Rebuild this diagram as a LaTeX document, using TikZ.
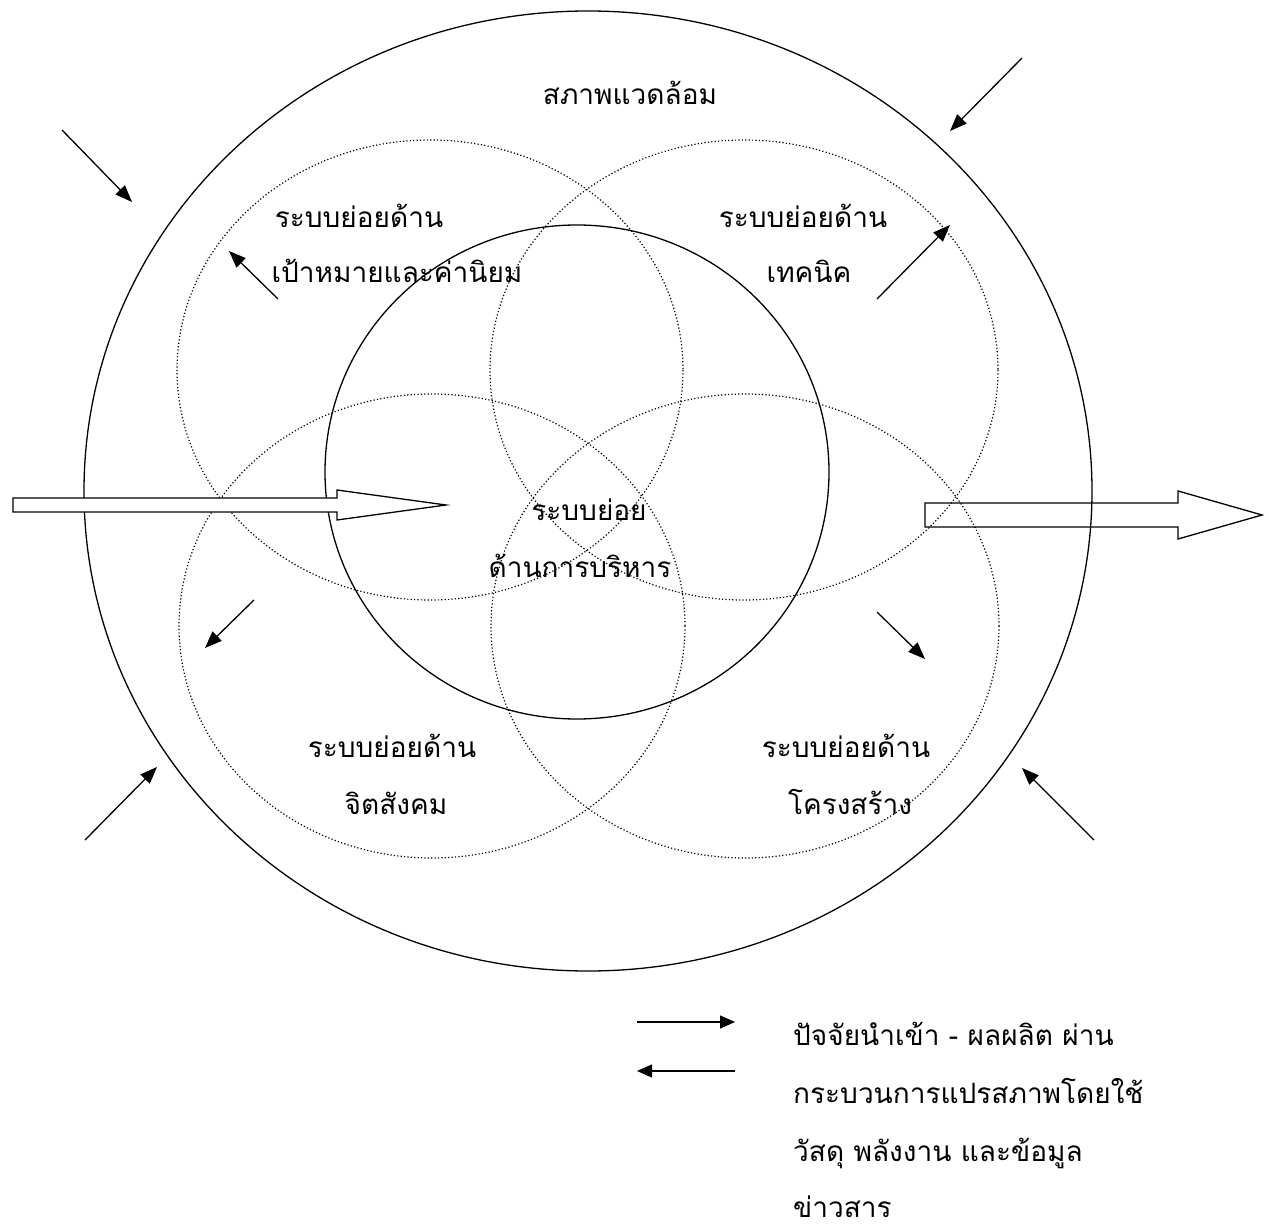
\documentclass[tikz,border=0pt]{standalone}
\usepackage{fontspec}
\newfontfamily\thaifont[Script=Thai]{Loma}
\usetikzlibrary{arrows.meta}
\begin{document}
\begin{tikzpicture}[x=1pt,y=-1pt,
  solidline/.style={line width=1.3pt},
  dotline/.style={line width=1.2pt, dash pattern=on 1.2pt off 2.2pt},
  thinarrow/.style={line width=1.3pt, -{Triangle[length=17pt,width=13pt]}},
  legarrow/.style={line width=1.3pt, -{Triangle[length=15pt,width=13pt]}},
  lbl/.style={font=\thaifont\fontsize{28}{28}\selectfont, inner sep=0pt, anchor=base},
  leg/.style={font=\thaifont\fontsize{28}{28}\selectfont, inner sep=0pt, anchor=base west},
  bigarrow/.style={line width=1.3pt}]
\useasboundingbox (0,0) rectangle (1269,1230);
% outer environment ellipse
\coordinate (outerc) at (588,491);
\draw[solidline] (outerc) ellipse [x radius=504, y radius=480];
% dotted subsystem circles
\coordinate (tlc) at (430,370);
\coordinate (trc) at (744,370);
\coordinate (blc) at (432,626);
\coordinate (brc) at (745,626);
\draw[dotline] (tlc) ellipse [x radius=253, y radius=230];
\draw[dotline] (trc) ellipse [x radius=254, y radius=230];
\draw[dotline] (blc) ellipse [x radius=253, y radius=232];
\draw[dotline] (brc) ellipse [x radius=254, y radius=232];
% inner management ellipse
\coordinate (innerc) at (577,472);
\draw[solidline] (innerc) ellipse [x radius=252, y radius=247];
% labels
\node[lbl] (env) at (630,105) {สภาพแวดล้อม};
\node[lbl] (tl1) at (359,228) {ระบบย่อยด้าน};
\node[lbl] (tl2) at (397,283) {เป้าหมายและค่านิยม};
\node[lbl] (tr1) at (803,228) {ระบบย่อยด้าน};
\node[lbl] (tr2) at (809,283) {เทคนิค};
\node[lbl] (c1) at (589,520) {ระบบย่อย};
\node[lbl] (c2) at (580,577) {ด้านการบริหาร};
\node[lbl] (bl1) at (392,757) {ระบบย่อยด้าน};
\node[lbl] (bl2) at (396,814) {จิตสังคม};
\node[lbl] (br1) at (846,757) {ระบบย่อยด้าน};
\node[lbl] (br2) at (850,814) {โครงสร้าง};
% big input arrow (filled white)
\draw[bigarrow, fill=white] (13,498) -- (337,498) -- (337,490) -- (446,505) -- (337,520) -- (337,512) -- (13,512) -- cycle;
% big output arrow (outline)
\draw[bigarrow] (925,503) -- (1178,503) -- (1178,491) -- (1262,515) -- (1178,539) -- (1178,527) -- (925,527) -- cycle;
% small arrows
\coordinate (a1s) at (62,130);   \coordinate (a1e) at (132,202);
\coordinate (a2s) at (1022,58);  \coordinate (a2e) at (950,131);
\coordinate (a3s) at (278,299);  \coordinate (a3e) at (229,251);
\coordinate (a4s) at (877,299);  \coordinate (a4e) at (950,225);
\coordinate (a5s) at (254,600);  \coordinate (a5e) at (205,648);
\coordinate (a6s) at (877,612);  \coordinate (a6e) at (925,659);
\coordinate (a7s) at (85,840);   \coordinate (a7e) at (157,767);
\coordinate (a8s) at (1094,840); \coordinate (a8e) at (1022,768);
\foreach \i in {1,...,8} {\draw[thinarrow] (a\i s) -- (a\i e);}
% legend
\coordinate (l1s) at (637,1022); \coordinate (l1e) at (735,1022);
\coordinate (l2s) at (735,1071); \coordinate (l2e) at (637,1071);
\draw[legarrow] (l1s) -- (l1e);
\draw[legarrow] (l2s) -- (l2e);
\node[leg] (g1) at (793,1045) {ปัจจัยนำเข้า - ผลผลิต ผ่าน};
\node[leg] (g2) at (793,1103) {กระบวนการแปรสภาพโดยใช้};
\node[leg] (g3) at (793,1161) {วัสดุ พลังงาน และข้อมูล};
\node[leg] (g4) at (793,1217) {ข่าวสาร};
\end{tikzpicture}
\end{document}
